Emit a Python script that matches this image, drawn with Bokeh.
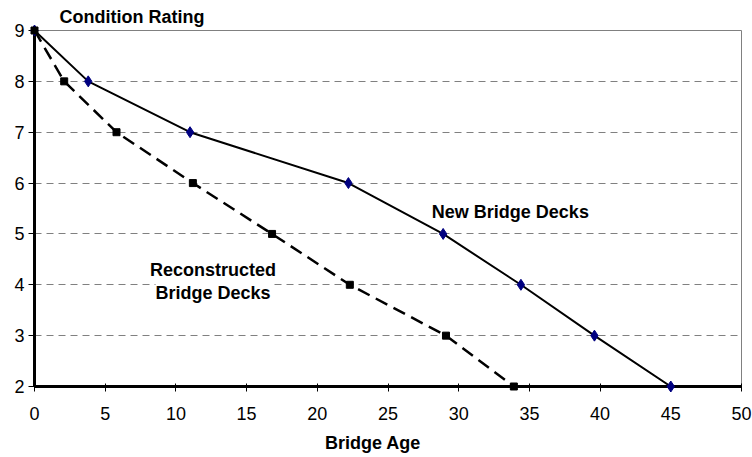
from bokeh.plotting import figure
from bokeh.models import Range1d, FixedTicker, Label, ColumnDataSource
from bokeh.embed import file_html
from bokeh.resources import INLINE

# ---- data ----
new_age = [0, 3.8, 11.0, 22.2, 28.9, 34.4, 39.6, 45.0]
new_rating = [9, 8, 7, 6, 5, 4, 3, 2]
rec_age = [0, 2.1, 5.8, 11.2, 16.8, 22.3, 29.1, 33.9]
rec_rating = [9, 8, 7, 6, 5, 4, 3, 2]
x_ticks = [0, 5, 10, 15, 20, 25, 30, 35, 40, 45, 50]
y_ticks = [2, 3, 4, 5, 6, 7, 8, 9]

FONT = "Liberation Sans"

p = figure(width=752, height=457, output_backend="svg", toolbar_location=None,
           x_range=Range1d(0, 50), y_range=Range1d(2, 9),
           min_border_left=34, min_border_right=11, min_border_top=30, min_border_bottom=71)

p.title.text = "Condition Rating"
p.title.align = "left"
p.title.offset = 25
p.title.standoff = 8
p.title.text_font = FONT
p.title.text_font_size = "18px"
p.title.text_font_style = "bold"
p.title.text_color = "black"

p.outline_line_color = "#808080"
p.outline_line_width = 1
p.background_fill_color = "white"
p.border_fill_color = "white"

p.xgrid.visible = False
p.ygrid.grid_line_color = "#808080"
p.ygrid.grid_line_dash = "7 5"
p.ygrid.grid_line_width = 1
p.ygrid.ticker = FixedTicker(ticks=y_ticks[1:-1])

p.xaxis.ticker = FixedTicker(ticks=x_ticks)
p.yaxis.ticker = FixedTicker(ticks=y_ticks)
for ax in (p.xaxis[0], p.yaxis[0]):
    ax.axis_line_color = "black"
    ax.axis_line_width = 3
    ax.major_tick_line_color = "black"
    ax.major_tick_line_width = 1
    ax.minor_tick_line_color = None
    ax.major_label_text_font = FONT
    ax.major_label_text_font_size = "18px"
    ax.major_label_text_color = "black"
p.xaxis.major_tick_in = 3
p.xaxis.major_tick_out = 5
p.xaxis.major_label_standoff = 15
p.yaxis.major_tick_in = 0
p.yaxis.major_tick_out = 6
p.yaxis.major_label_standoff = 4

xa = p.xaxis[0]
xa.axis_label = "Bridge Age" + "\u00a0" * 6
xa.axis_label_text_font = FONT
xa.axis_label_text_font_size = "18px"
xa.axis_label_text_font_style = "bold"
xa.axis_label_text_color = "black"
xa.axis_label_standoff = 10

src_new = ColumnDataSource(dict(x=new_age, y=new_rating))
src_rec = ColumnDataSource(dict(x=rec_age, y=rec_rating))

p.line("x", "y", source=src_new, line_color="black", line_width=2)
p.line("x", "y", source=src_rec, line_color="black", line_width=2.5, line_dash="13 7")
p.scatter("x", "y", source=src_new, marker="diamond", size=11,
          fill_color="#000080", line_color="#000080", level="overlay")
p.scatter("x", "y", source=src_rec, marker="square", size=7,
          fill_color="black", line_color="black", level="overlay")

def lab(text, x, y, align="left", bg=None):
    l = Label(x=x, y=y, text=text,
              text_font=FONT, text_font_size="18px", text_font_style="bold",
              text_color="black", text_align=align, text_baseline="alphabetic")
    if bg:
        l.background_fill_color = bg
    p.add_layout(l)

lab("New Bridge Decks", 28.1, 5.44)
lab("Reconstructed", 12.63, 4.3, align="center")
lab("Bridge Decks", 12.63, 3.83, align="center", bg="white")

open("out.html", "w").write(file_html(p, INLINE))
